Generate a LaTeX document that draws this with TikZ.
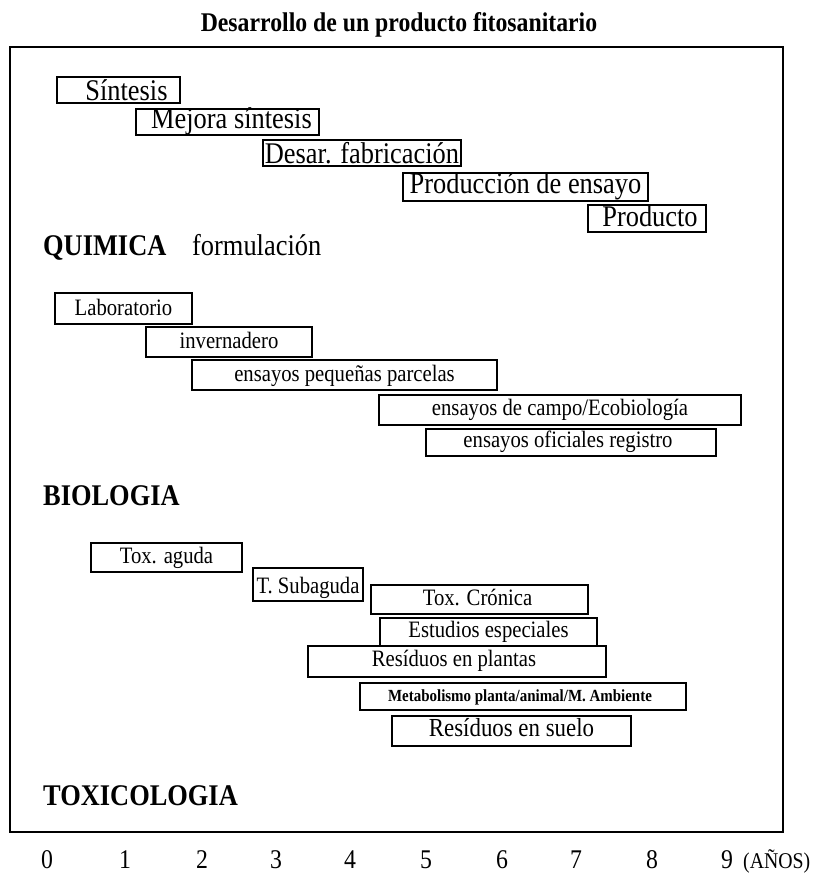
\documentclass[tikz,border=0pt]{standalone}
\usepackage{fontspec}
\setmainfont{Liberation Serif}[FakeStretch=0.88]
\tikzset{
  gbox/.style={draw=black, line width=1.2pt, inner sep=0pt},
  gtxt/.style={inner sep=0pt, anchor=base},
  frame/.style={draw=black, line width=2.6pt},
  sect/.style={anchor=base west, inner sep=0pt, font=\bfseries\fontsize{30}{30}\selectfont},
  axn/.style={anchor=base, inner sep=0pt, font=\fontsize{27}{27}\selectfont},
}
\newcommand\qfnt{\fontsize{30}{30}\selectfont}
\newcommand\bfnt{\fontsize{23.5}{23.5}\selectfont}
% name, x1, y1, x2, y2, dx, baseline, font, text
\newcommand\gbar[9]{%
  \node[gbox, minimum width={#4-#2}, minimum height={#5-#3}] (#1) at ({(#2+#4)/2},{(#3+#5)/2}) {};
  \node[gtxt, font=#8] (#1t) at ({(#2+#4)/2+#6},#7) {#9};}
\begin{document}
\begin{tikzpicture}[x=1pt, y=-1pt]
\useasboundingbox (0,0) rectangle (820,874);
% title
\node[anchor=base, inner sep=0pt, font=\bfseries\fontsize{27}{27}\selectfont] (title) at (399,32) {Desarrollo de un producto fitosanitario};
% frame
\draw[frame] (10,47) rectangle (783,832);
% QUIMICA
\gbar{q1}{57}{77}{180}{103}{8}{100.5}{\qfnt}{Síntesis}
\gbar{q2}{136}{109}{319}{135}{4}{129}{\qfnt}{Mejora síntesis}
\gbar{q3}{263}{140}{461}{166}{0}{163.5}{\qfnt}{Desar. fabricación}
\gbar{q4}{403}{173}{648}{201}{0}{193.5}{\qfnt}{Producción de ensayo}
\gbar{q5}{588}{205}{706}{232}{3}{227}{\qfnt}{Producto}
\node[sect] (quim) at (43,255) {QUIMICA};
\node[anchor=base west, inner sep=0pt, font=\qfnt] (form) at (192,255) {formulación};
% BIOLOGIA
\gbar{b1}{55}{293}{192}{324}{0}{315}{\bfnt}{Laboratorio}
\gbar{b2}{146}{327}{312}{357}{0}{348}{\bfnt}{invernadero}
\gbar{b3}{192}{360}{497}{390}{0}{381}{\bfnt}{ensayos pequeñas parcelas}
\gbar{b4}{379}{395}{741}{425}{0}{415}{\bfnt}{ensayos de campo/Ecobiología}
\gbar{b5}{426}{429}{716}{456}{-3}{447}{\bfnt}{ensayos oficiales registro}
\node[sect] (biol) at (43,505) {BIOLOGIA};
% TOXICOLOGIA
\gbar{t1}{91}{543}{242}{572}{0}{563}{\bfnt}{Tox. aguda}
\gbar{t2}{253}{568}{363}{601}{0}{593}{\bfnt}{T. Subaguda}
\gbar{t3}{371}{585}{588}{614}{-2}{605}{\bfnt}{Tox. Crónica}
\gbar{t4}{380}{618}{597}{646}{0}{637}{\bfnt}{Estudios especiales}
\gbar{t5}{308}{646}{606}{677}{-3}{666}{\bfnt}{Resíduos en plantas}
\gbar{t6}{360}{683}{686}{710}{-3}{701}{\bfseries\fontsize{17}{17}\selectfont}{Metabolismo planta/animal/M. Ambiente}
\gbar{t7}{392}{716}{631}{746}{0}{736}{\fontsize{26}{26}\selectfont}{Resíduos en suelo}
\node[sect] (toxi) at (43,805) {TOXICOLOGIA};
% axis
\node[axn] (y0) at (47,868) {0};
\node[axn] (y1) at (125,868) {1};
\node[axn] (y2) at (202,868) {2};
\node[axn] (y3) at (276,868) {3};
\node[axn] (y4) at (350,868) {4};
\node[axn] (y5) at (426,868) {5};
\node[axn] (y6) at (502,868) {6};
\node[axn] (y7) at (576,868) {7};
\node[axn] (y8) at (652,868) {8};
\node[axn] (y9) at (727,868) {9};
\node[anchor=base west, inner sep=0pt, font=\fontsize{22.5}{22.5}\selectfont] (anos) at (743,868) {(AÑOS)};
\end{tikzpicture}
\end{document}
